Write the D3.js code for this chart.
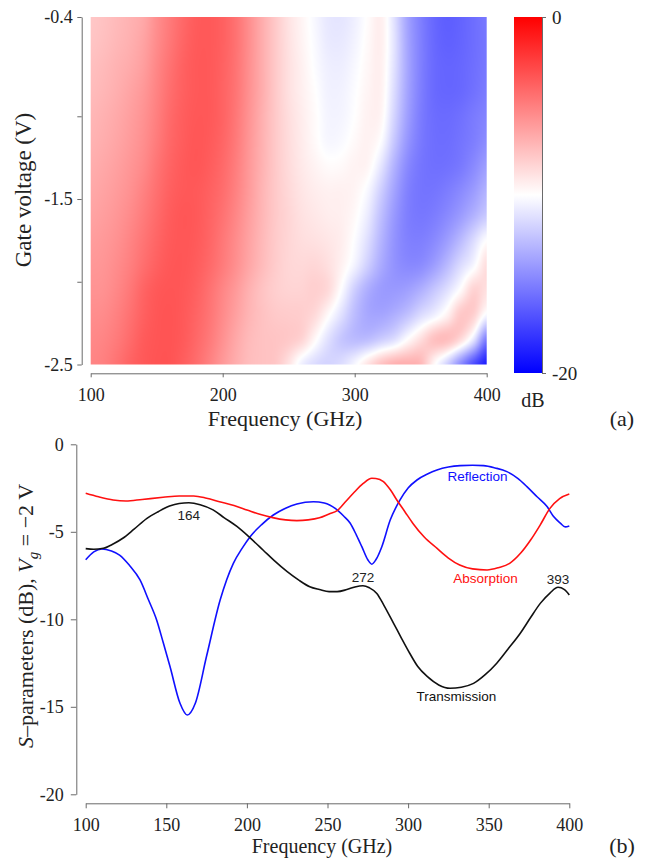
<!DOCTYPE html>
<html>
<head>
<meta charset="utf-8">
<script src="https://cdn.jsdelivr.net/npm/d3@7"></script>
<style>
  body { margin: 0; background: #fff; }
  svg text { font-family: "Liberation Serif", "Times New Roman", serif; fill: #222; }
</style>
</head>
<body>
<svg id="fig" width="647" height="861"></svg>
<script>
// ---------- (a) transmission map: gate voltage vs frequency ----------
const mapFreqs = [100, 110, 120, 130, 140, 150, 160, 170, 180, 190, 200, 210, 220, 230, 240, 250,
                  260, 270, 280, 290, 300, 310, 320, 330, 340, 350, 360, 370, 380, 390, 400];
const mapVoltages = [-0.40, -0.55, -0.70, -0.85, -1.00, -1.15, -1.30, -1.45,
                     -1.60, -1.75, -1.90, -2.05, -2.20, -2.35, -2.50];
// one row per gate voltage, one value (dB) per frequency
const mapDb = [
  [-7.8,-7.6,-7.3,-7.0,-6.6,-5.6,-4.8,-4.1,-3.6,-3.5,-3.8,-4.5,-5.6,-6.8,-7.9,-8.9,-9.6,-10.3,-10.9,-11.0,-10.6,-9.9,-9.4,-11.2,-13.6,-15.0,-15.9,-16.3,-16.1,-15.7,-15.3],
  [-7.7,-7.5,-7.2,-6.9,-6.4,-5.5,-4.7,-4.0,-3.55,-3.5,-3.8,-4.5,-5.6,-6.8,-7.9,-8.85,-9.55,-10.2,-10.8,-10.85,-10.45,-9.8,-9.4,-11.1,-13.5,-14.95,-15.85,-16.2,-16.05,-15.7,-15.35],
  [-7.5,-7.3,-7.0,-6.7,-6.2,-5.3,-4.5,-3.85,-3.5,-3.5,-3.85,-4.55,-5.65,-6.8,-7.9,-8.8,-9.45,-10.1,-10.6,-10.65,-10.25,-9.7,-9.45,-11.2,-13.45,-14.95,-15.8,-16.05,-15.95,-15.65,-15.3],
  [-7.35,-7.15,-6.85,-6.45,-5.95,-5.15,-4.35,-3.8,-3.5,-3.5,-3.9,-4.6,-5.7,-6.8,-7.9,-8.8,-9.4,-9.95,-10.5,-10.5,-10.1,-9.6,-9.5,-11.4,-13.55,-15.0,-15.8,-16.0,-15.9,-15.55,-15.15],
  [-7.15,-6.95,-6.65,-6.25,-5.75,-5.0,-4.2,-3.7,-3.45,-3.5,-3.9,-4.7,-5.8,-6.9,-7.9,-8.7,-9.3,-9.85,-10.4,-10.4,-10.0,-9.5,-9.65,-11.7,-13.75,-15.1,-15.7,-15.8,-15.6,-15.2,-14.85],
  [-7.0,-6.8,-6.5,-6.1,-5.6,-4.85,-4.1,-3.65,-3.4,-3.55,-4.0,-4.8,-5.9,-6.95,-7.9,-8.65,-9.25,-9.8,-10.3,-10.2,-9.8,-9.5,-10.1,-12.2,-14.1,-15.2,-15.65,-15.7,-15.45,-15.05,-14.5],
  [-6.8,-6.6,-6.3,-5.9,-5.4,-4.6,-3.95,-3.55,-3.4,-3.65,-4.15,-4.95,-6.0,-7.0,-7.9,-8.6,-9.15,-9.55,-9.85,-9.8,-9.55,-9.65,-11.0,-13.0,-14.6,-15.35,-15.6,-15.55,-15.25,-14.6,-13.8],
  [-6.6,-6.4,-6.1,-5.7,-5.1,-4.4,-3.8,-3.5,-3.5,-3.8,-4.3,-5.1,-6.1,-7.1,-7.9,-8.5,-9.0,-9.3,-9.45,-9.45,-9.6,-10.3,-11.9,-13.6,-14.9,-15.4,-15.4,-15.1,-14.6,-13.9,-13.0],
  [-6.4,-6.2,-5.9,-5.45,-4.85,-4.2,-3.65,-3.4,-3.5,-3.9,-4.5,-5.3,-6.25,-7.15,-7.9,-8.4,-8.85,-9.1,-9.3,-9.4,-9.8,-10.8,-12.5,-14.0,-15.0,-15.3,-15.1,-14.6,-13.9,-13.0,-12.1],
  [-6.15,-6.0,-5.7,-5.2,-4.6,-4.0,-3.55,-3.4,-3.55,-4.0,-4.7,-5.5,-6.4,-7.25,-7.95,-8.4,-8.7,-8.85,-9.05,-9.35,-10.1,-11.3,-12.9,-14.2,-14.9,-15.0,-14.6,-13.8,-12.7,-11.4,-10.0],
  [-5.95,-5.85,-5.5,-5.0,-4.35,-3.8,-3.45,-3.4,-3.65,-4.15,-4.85,-5.65,-6.55,-7.35,-8.0,-8.4,-8.5,-8.45,-8.8,-9.5,-10.5,-11.9,-13.3,-14.2,-14.6,-14.5,-13.8,-12.7,-11.4,-10.3,-8.7],
  [-5.75,-5.7,-5.3,-4.7,-3.95,-3.5,-3.35,-3.45,-3.8,-4.45,-5.25,-6.05,-6.95,-7.65,-8.1,-8.3,-8.3,-8.15,-8.6,-10.1,-11.9,-13.2,-13.85,-13.95,-13.7,-13.1,-12.2,-11.2,-9.9,-8.3,-8.8],
  [-5.55,-5.45,-5.05,-4.45,-3.8,-3.4,-3.3,-3.5,-3.95,-4.6,-5.45,-6.3,-7.1,-7.6,-7.9,-8.0,-8.1,-8.6,-9.85,-11.2,-12.6,-13.4,-13.5,-13.1,-12.4,-11.4,-10.6,-9.5,-7.9,-8.2,-10.3],
  [-5.35,-5.2,-4.8,-4.2,-3.6,-3.35,-3.3,-3.55,-4.1,-4.8,-5.7,-6.6,-7.3,-7.6,-7.7,-7.9,-8.4,-9.8,-11.2,-12.2,-12.6,-12.5,-11.9,-11.2,-9.9,-8.7,-7.6,-7.5,-8.6,-11.0,-15.2],
  [-5.2,-5.0,-4.5,-3.9,-3.5,-3.3,-3.3,-3.7,-4.3,-5.1,-6.0,-6.8,-7.4,-7.6,-7.8,-8.9,-10.6,-11.4,-11.7,-11.3,-10.3,-8.9,-7.6,-6.9,-6.8,-7.2,-9.7,-11.8,-14.5,-17.0,-18.8]
];
const mapXTicks = [100, 200, 300, 400];
const mapYTicks = [-0.4, -1, -1.5, -2, -2.5];
const mapYLabelled = [-0.4, -1.5, -2.5];
const colorbarTicks = [0, -20];

// ---------- (b) S-parameters at Vg = -2 V ----------
const reflFreq = [100,105,110,116,121,127,133.7,139,144,148,152.3,158.5,163,168,175,183.4,191.6,197,202,209,216.4,224,231,241.3,248,255,260,264,268,271.3,275,277.5,280,283.7,288.9,295,300,305.5,312,317.9,325,332.3,340,346.8,354,361.3,368,373.7,380,386.2,390,394.4,397.5,400];
const reflDb   = [-6.6,-6.15,-5.98,-6.1,-6.33,-6.9,-7.75,-8.9,-10.04,-11.3,-12.7,-14.8,-15.47,-14.8,-12.1,-8.9,-6.8,-5.95,-5.28,-4.6,-4.04,-3.65,-3.41,-3.28,-3.35,-3.68,-4.1,-4.5,-5.2,-5.85,-6.6,-6.85,-6.6,-5.85,-4.33,-3.18,-2.5,-2.04,-1.7,-1.47,-1.3,-1.22,-1.2,-1.22,-1.35,-1.56,-1.95,-2.42,-3.0,-3.56,-4.1,-4.5,-4.72,-4.67];

const absFreq = [100,108,117,125,135,148,158,167,175,183,192,200,208,216,224,231,238,245,251,256,261,266,272,277.5,280,284.7,289,293,298,303,310,318,325,332,340,349,356,363,370,376,382,388,394,400];
const absDb   = [-2.8,-3.0,-3.18,-3.24,-3.15,-3.03,-2.95,-2.95,-3.08,-3.28,-3.5,-3.75,-4.0,-4.19,-4.32,-4.36,-4.32,-4.2,-3.98,-3.79,-3.3,-2.8,-2.25,-1.94,-1.95,-2.13,-2.6,-3.18,-3.85,-4.52,-5.3,-5.95,-6.5,-6.9,-7.12,-7.18,-7.05,-6.8,-6.2,-5.47,-4.6,-3.66,-3.1,-2.84];

const transFreq = [100,105,111,117,123,130,138,145,152,158,164,171,179,186,194,202,210,217,225,232,239,245,251,256,262,267,272,276,280.6,285,291,296,301,306,312,319,326,333,340.6,348,355,362,369.6,376,382,388,393,397,400];
const transDb   = [-5.96,-6.0,-5.94,-5.7,-5.37,-4.85,-4.23,-3.85,-3.53,-3.38,-3.34,-3.45,-3.75,-4.2,-4.71,-5.35,-6.04,-6.65,-7.28,-7.75,-8.14,-8.3,-8.42,-8.42,-8.3,-8.15,-8.08,-8.2,-8.52,-9.2,-10.23,-11.1,-11.94,-12.7,-13.28,-13.75,-13.94,-13.88,-13.66,-13.15,-12.51,-11.7,-10.8,-9.9,-9.09,-8.5,-8.17,-8.3,-8.61];

const peakFreqs = [164, 272, 393];
const seriesNames = ["Reflection", "Absorption", "Transmission"];
const seriesColors = ["#1010ff", "#ff1010", "#111111"];
const lineXTicks = [100, 150, 200, 250, 300, 350, 400];
const lineYTicks = [0, -5, -10, -15, -20];

const svg = d3.select("#fig");
const dash = v => String(v).replace("\u2212", "-");

// ---------------- panel (a) ----------------
const xH = d3.scaleLinear().domain([100, 400]).range([90.7, 486.7]);
const yH = d3.scaleLinear().domain([-0.4, -2.5]).range([17, 364.5]);
const color = d3.scaleLinear().domain([-20, -10, 0]).range(["#0000ff", "#ffffff", "#ff0000"]).clamp(true);

// smooth (Catmull-Rom) sampling of the grid at every screen pixel of the map
const nF = mapFreqs.length, nV = mapVoltages.length;
const df = mapFreqs[1] - mapFreqs[0];
const dv = mapVoltages[0] - mapVoltages[1];
const cell = (i, j) => mapDb[Math.max(0, Math.min(nV - 1, j))][Math.max(0, Math.min(nF - 1, i))];
const cr = (p0, p1, p2, p3, t) =>
  p1 + 0.5 * t * (p2 - p0 + t * (2 * p0 - 5 * p1 + 4 * p2 - p3 + t * (3 * (p1 - p2) + p3 - p0)));
function sample(u, w) {
  const i = Math.floor(u), j = Math.floor(w), tu = u - i, tw = w - j;
  const rows = [-1, 0, 1, 2].map(k =>
    cr(cell(i - 1, j + k), cell(i, j + k), cell(i + 1, j + k), cell(i + 2, j + k), tu));
  return cr(rows[0], rows[1], rows[2], rows[3], tw);
}

const x0 = xH(100), y0 = yH(-0.4);
const W = Math.round(xH(400) - x0), H = Math.round(yH(-2.5) - y0);
const cv = document.createElement("canvas");
cv.width = W; cv.height = H;
const ctx = cv.getContext("2d");
const im = ctx.createImageData(W, H);
for (let py = 0; py < H; py++) {
  const v = yH.invert(y0 + (py + 0.5) * (yH(-2.5) - y0) / H);
  const w = (mapVoltages[0] - v) / dv;
  for (let px = 0; px < W; px++) {
    const f = xH.invert(x0 + (px + 0.5) * (xH(400) - x0) / W);
    const c = d3.rgb(color(sample((f - mapFreqs[0]) / df, w)));
    const k = 4 * (py * W + px);
    im.data[k] = c.r; im.data[k + 1] = c.g; im.data[k + 2] = c.b; im.data[k + 3] = 255;
  }
}
ctx.putImageData(im, 0, 0);

const defs = svg.append("defs");
svg.append("image")
  .attr("href", cv.toDataURL())
  .attr("preserveAspectRatio", "none")
  .attr("x", xH(100)).attr("y", yH(-0.4))
  .attr("width", xH(400) - xH(100)).attr("height", yH(-2.5) - yH(-0.4));

function styleAxis(g, size) {
  g.selectAll(".domain, .tick line").attr("stroke", "#6a6a6a").attr("stroke-width", 1);
  g.selectAll(".tick text").attr("font-size", size).attr("fill", "#222")
    .attr("font-family", "Liberation Serif, serif");
}

svg.append("g").attr("transform", "translate(0,373.3)")
  .call(d3.axisBottom(xH).tickValues(mapXTicks).tickSize(4).tickPadding(10.5).tickFormat(dash).tickSizeOuter(0))
  .call(g => styleAxis(g, 18));
svg.append("g").attr("transform", "translate(81.7,0)")
  .call(d3.axisLeft(yH).tickValues(mapYTicks).tickSize(4.4).tickPadding(4.6).tickSizeOuter(0)
    .tickFormat(v => mapYLabelled.includes(v) ? dash(v) : ""))
  .call(g => styleAxis(g, 18));

// colour bar
const yC = d3.scaleLinear().domain([0, -20]).range([17, 373]);
const grad = defs.append("linearGradient").attr("id", "cbGrad")
  .attr("x1", 0).attr("y1", 1).attr("x2", 0).attr("y2", 0);
[-20, -10, 0].forEach(v => grad.append("stop")
  .attr("offset", (v + 20) / 20).attr("stop-color", color(v)));
svg.append("rect").attr("x", 514).attr("y", yC(0)).attr("width", 28)
  .attr("height", yC(-20) - yC(0)).attr("fill", "url(#cbGrad)");
svg.append("g").attr("transform", "translate(542,0)")
  .call(d3.axisRight(yC).tickValues(colorbarTicks).tickSize(4).tickPadding(6).tickFormat(dash).tickSizeOuter(0))
  .call(g => styleAxis(g, 19));
svg.append("text").attr("x", 533).attr("y", 407).attr("text-anchor", "middle")
  .attr("font-size", 20).text("dB");

svg.append("text").attr("x", 285).attr("y", 426).attr("text-anchor", "middle")
  .attr("font-size", 22).text("Frequency (GHz)");
svg.append("text").attr("transform", "translate(31,190) rotate(-90)")
  .attr("text-anchor", "middle").attr("font-size", 23).text("Gate voltage (V)");
svg.append("text").attr("x", 622).attr("y", 426).attr("text-anchor", "middle")
  .attr("font-size", 22).text("(a)");

// ---------------- panel (b) ----------------
const xL = d3.scaleLinear().domain([100, 400]).range([85.7, 569.3]);
const yL = d3.scaleLinear().domain([0, -20]).range([444.3, 794.3]);

svg.append("g").attr("transform", "translate(0,803.3)")
  .call(d3.axisBottom(xL).tickValues(lineXTicks).tickSize(5).tickPadding(9.8).tickFormat(dash).tickSizeOuter(0))
  .call(g => styleAxis(g, 18));
svg.append("g").attr("transform", "translate(76.3,0)")
  .call(d3.axisLeft(yL).tickValues(lineYTicks).tickSize(5.5).tickPadding(7).tickFormat(dash).tickSizeOuter(0))
  .call(g => styleAxis(g, 18));

const line = d3.line().x(d => xL(d[0])).y(d => yL(d[1])).curve(d3.curveMonotoneX);
const series = [
  d3.zip(reflFreq, reflDb),
  d3.zip(absFreq, absDb),
  d3.zip(transFreq, transDb)
];
series.forEach((pts, i) => svg.append("path").datum(pts)
  .attr("d", line).attr("fill", "none")
  .attr("stroke", seriesColors[i]).attr("stroke-width", 1.6));

// peak frequency labels on the transmission curve
const transAt = f => transDb[transFreq.indexOf(f)];
const peakOffsets = [17, -4, -3];
peakFreqs.forEach((f, i) => svg.append("text")
  .attr("x", xL(f)).attr("y", yL(transAt(f)) + peakOffsets[i])
  .attr("text-anchor", "middle").attr("font-size", 13.5)
  .style("font-family", "Liberation Sans, Arial, sans-serif").style("fill", "#222").text(f));

// series names
const nameAnchors = [[343, -2.1], [348, -7.9], [330, -14.65]];
seriesNames.forEach((n, i) => svg.append("text")
  .attr("x", xL(nameAnchors[i][0])).attr("y", yL(nameAnchors[i][1]))
  .attr("text-anchor", "middle").attr("font-size", 13.5)
  .style("font-family", "Liberation Sans, Arial, sans-serif")
  .style("fill", seriesColors[i]).text(n));

svg.append("text").attr("x", 322).attr("y", 853).attr("text-anchor", "middle")
  .attr("font-size", 20).text("Frequency (GHz)");
const yl = svg.append("text").attr("transform", "translate(33,616) rotate(-90)")
  .attr("text-anchor", "middle").attr("font-size", 22);
yl.append("tspan").attr("font-style", "italic").text("S");
yl.append("tspan").text("\u2013parameters (dB), ");
yl.append("tspan").attr("font-style", "italic").text("V");
yl.append("tspan").attr("font-style", "italic").attr("font-size", 15).attr("dy", 5).text("g");
yl.append("tspan").attr("dy", -5).text(" = \u22122 V");
svg.append("text").attr("x", 622).attr("y", 853).attr("text-anchor", "middle")
  .attr("font-size", 22).text("(b)");
</script>
</body>
</html>
